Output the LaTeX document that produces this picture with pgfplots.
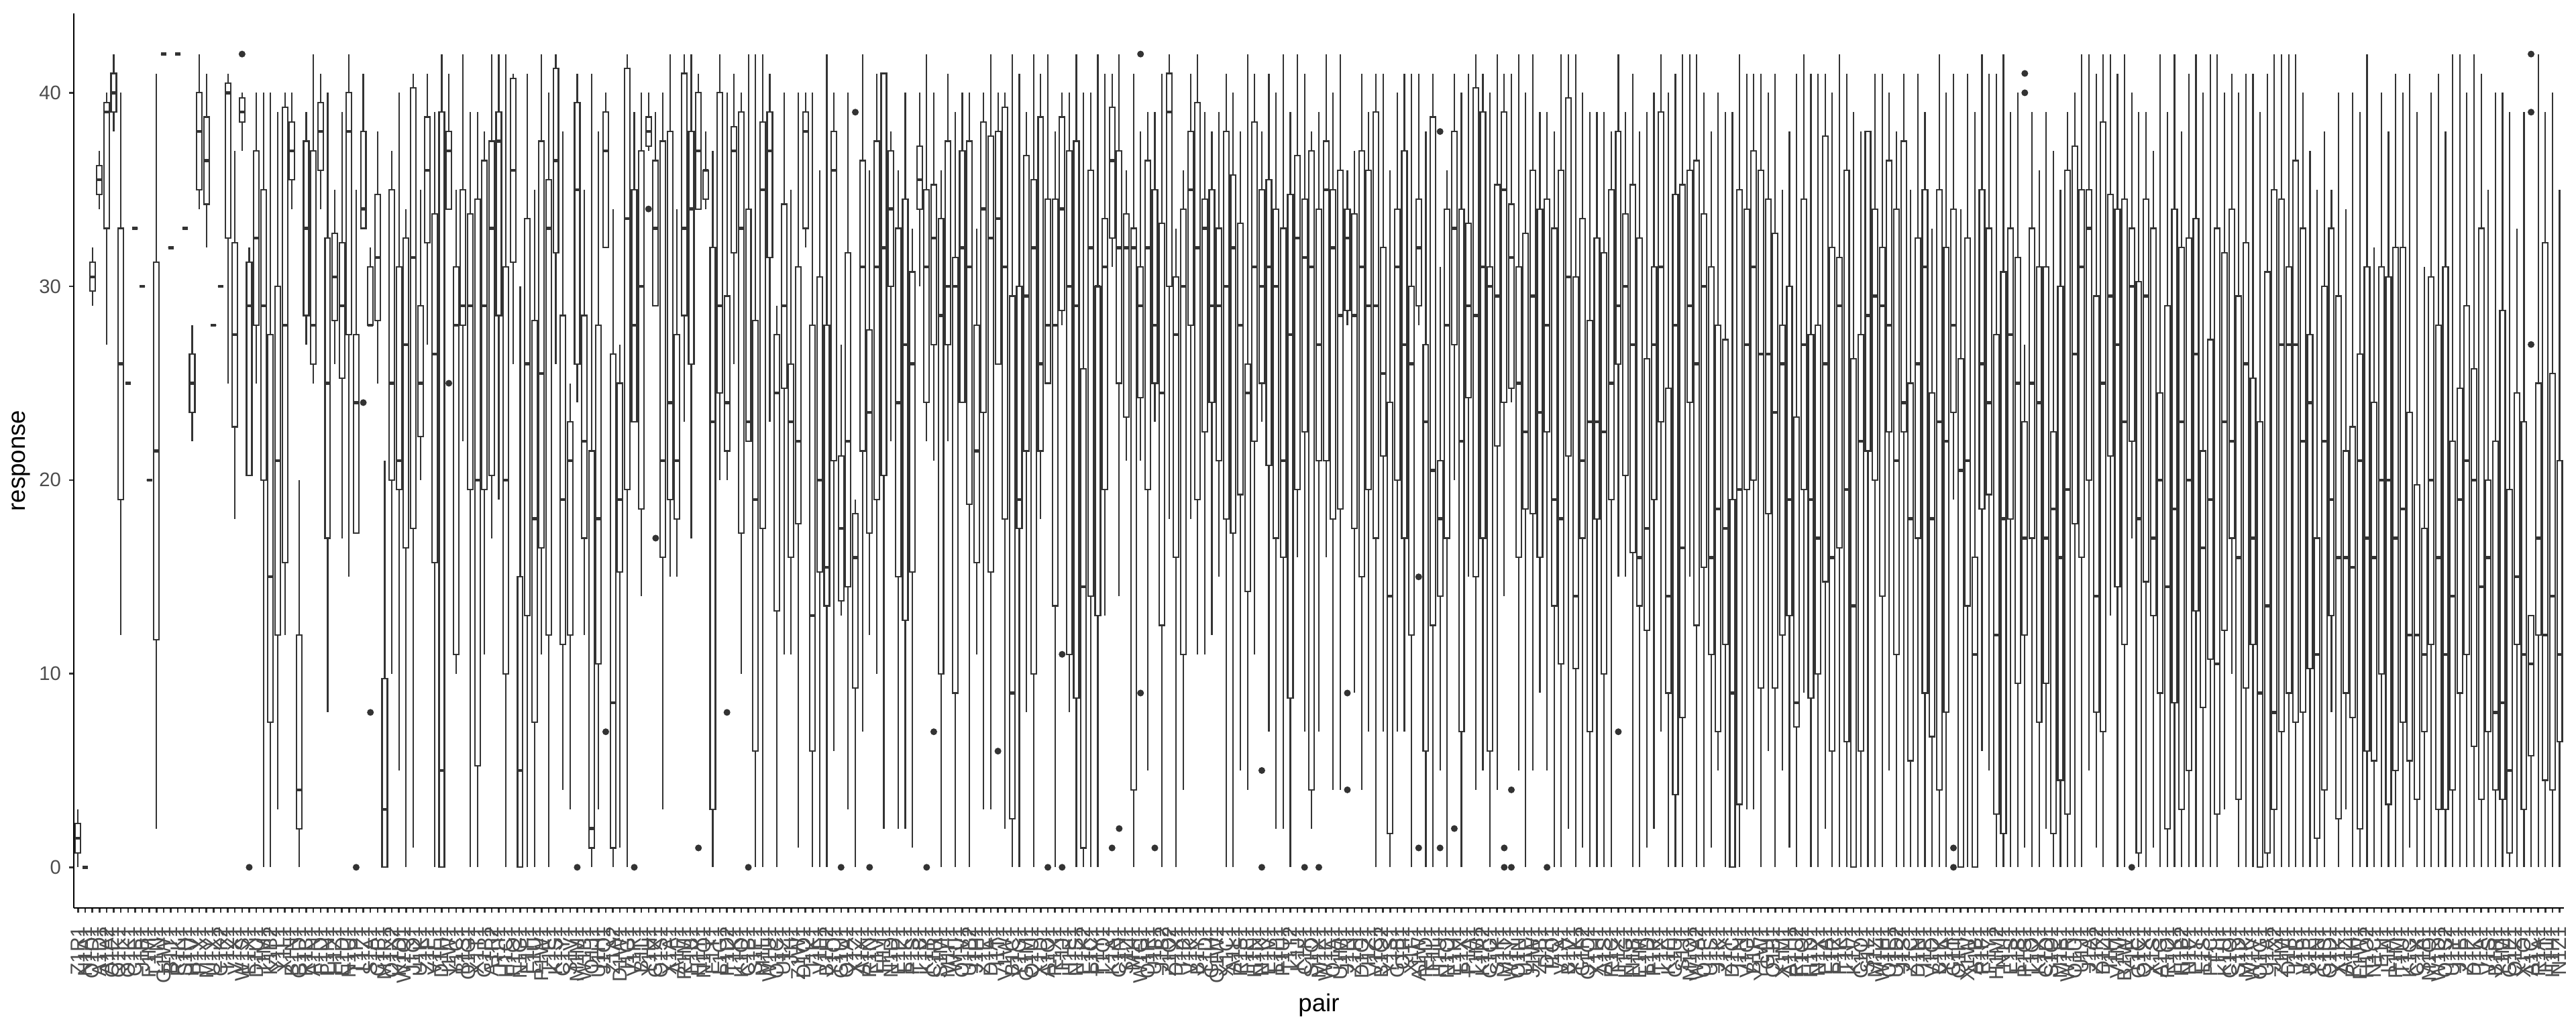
\documentclass[border=0pt]{standalone}
\usepackage{fontspec}
\setmainfont{Liberation Sans}
\usepackage{pgfplots}
\usepackage{pgfplotstable}
\pgfplotsset{compat=1.18}
\usepgfplotslibrary{statistics}
\definecolor{boxc}{HTML}{333333}
\definecolor{tickc}{HTML}{4D4D4D}
\pgfplotsset{bx/.style={solid, draw=boxc, line width=0.65pt, fill=white}}

\pgfplotstableread{
i lab lw lq med uq uw
1 Z1R1 0 0.75 1.5 2.25 3
2 N1A1 0 0 0 0 0
3 O1D1 29 29.75 30.5 31.25 32
4 A1D1 34 34.75 35.5 36.25 37
5 A1A2 27 33 39 39.5 40
6 Q1E1 38 39 40 41 42
7 Q1K1 12 19 26 33 40
8 O1K1 25 25 25 25 25
9 C1E1 33 33 33 33 33
10 J1B1 30 30 30 30 30
11 F1M1 20 20 20 20 20
12 L1N1 2 11.75 21.5 31.25 41
13 G1W1 42 42 42 42 42
14 B1T1 32 32 32 32 32
15 R1K1 42 42 42 42 42
16 S1H1 33 33 33 33 33
17 H1V1 22 23.5 25 26.5 28
18 P1X1 34 35 38 40 42
19 M1Y1 32 34.25 36.5 38.75 41
20 U1X1 28 28 28 28 28
21 C1K2 30 30 30 30 30
22 T1Z1 25 32.5 40 40.5 41
23 V1X1 18 22.75 27.5 32.25 37
24 W1S1 37 38.5 39 39.75 40
25 E1X1 20.25 20.25 29 31.25 32
26 D1U1 25 28 32.5 37 40
27 I1M1 0 20 29 35 40
28 K1B2 0 7.5 15 27.5 40
29 Y1L1 3 12 21 30 39
30 X1L1 12 15.75 28 39.25 40
31 B1N1 34 35.5 37 38.5 40
32 G1D1 0 2 4 12 20
33 R1B1 27 28.5 33 37.5 39
34 A1N1 25 26 28 37 42
35 F1D1 34 36 38 39.5 41
36 P1N1 8 17 25 32.5 40
37 H1Z1 26 28.25 30.5 32.75 35
38 E1D1 17 25.25 29 32.25 39
39 N1U1 15 27.5 38 40 42
40 T1P1 17.25 17.25 24 27.5 35
41 L1Z1 33 33 34 38 41
42 S1A1 28 28 28 31 32
43 C1P1 25 28.25 31.5 34.75 38
44 M1R1 0 0 3 9.75 21
45 O1X2 10 20 25 35 37
46 K1D1 5 19.5 21 31 40
47 W1Q1 0 16.5 27 32.5 34
48 J1O1 1 17.5 31.5 40.25 41
49 U1K1 20 22.25 25 29 35
50 Z1F1 27 32.25 36 38.75 41
51 V1E1 0 15.75 26.5 33.75 39
52 D1H1 0 0 5 39 42
53 I1W1 34 34 37 38 41
54 Y1C1 10 11 28 31 35
55 B1S1 22 28 29 35 42
56 Q1G1 0 19.5 29 33.75 39
57 X1T1 0 5.25 20 34.5 39
58 G1P1 11 19.5 29 36.5 38
59 A1R2 17 20.25 33 37.5 42
60 R1I1 19 28.5 37.5 39 42
61 H1C1 0 10 20 31 42
62 F1O1 26 31.25 36 40.75 41
63 N1G1 0 0 5 15 30
64 E1F1 0 13 26 33.5 41
65 L1U1 0 7.5 18 28.25 35
66 P1W1 11 16.5 25.5 37.5 42
67 T1E1 0 12 33 35.5 40
68 K1S1 26 31.75 36.5 41.25 42
69 C1Y1 4 11.5 19 28.5 38
70 S1V1 3 12 21 23 25
71 M1M1 24 26 35 39.5 41
72 W1B1 12 17 22 28.5 35
73 O1J1 0 1 2 21.5 41
74 U1H1 3 10.5 18 28 38
75 J1Q1 32 32 37 39 40
76 Z1A2 0 1 8.5 26.5 34
77 D1W1 1 15.25 19 25 27
78 I1G1 0 19.5 33.5 41.25 42
79 V1R1 23 23 28 35 39
80 B1L1 14 18.5 30 37 40
81 Y1H1 37 37.25 38 38.75 40
82 G1X1 29 29 33 36.5 39
83 Q1S1 3 16 21 37.5 40
84 X1A1 15 19 24 38 42
85 A1F1 15 18 21 27.5 34
86 R1M1 23 28.5 33 41 42
87 F1B1 17 26 34 38 42
88 H1Y1 34 34 37 40 41
89 N1Q1 34 34.5 36 36 38
90 E1T1 0 3 23 32 37
91 L1G1 20 24.5 29 40 42
92 P1D2 20 21.5 24 29.5 40
93 T1K1 26 31.75 37 38.25 41
94 K1O1 10 17.25 33 39 40
95 C1B1 22 22 23 34 42
96 S1E1 0 6 19 28.25 42
97 M1L1 0 17.5 35 38.5 42
98 W1U1 23 31.5 37 39 41
99 O1C1 0 13.25 24.5 27.5 29
100 U1Z1 11 24.75 29 34.25 40
101 J1I1 11 16 23 26 35
102 Z1W1 1 17.75 22 31 40
103 D1Q1 32 33 38 39 40
104 I1K1 0 6 13 28 40
105 V1F1 0 15.25 20 30.5 36
106 B1H2 0 13.5 15.5 28 42
107 Y1O1 6 21 36 38 40
108 G1U1 13 13.75 17.5 21.25 27
109 Q1A1 3 14.5 22 31.75 40
110 X1Z1 0 9.25 16 18.25 19
111 A1X1 7 21.5 31 36.5 42
112 R1N1 12 17.25 23.5 27.75 36
113 F1V1 10 19 31 37.5 41
114 H1J1 2 20.25 32 41 41
115 N1D1 22 30 34 37 38
116 E1P1 2 15 24 33 36
117 L1K1 2 12.75 27 34.5 40
118 P1S1 1 15.25 26 30.75 33
119 T1B1 30 34 35.5 37.25 40
120 K1Y1 22 24 31 35 42
121 C1R1 21 27 32.5 35.25 40
122 S1M1 0 10 28.5 33.5 36
123 M1F1 22 27 30 37.5 41
124 W1I1 0 9 30 31.5 39
125 O1V1 24 24 32 37 40
126 U1B2 0 18.75 31 37.5 40
127 J1H1 11 15.75 21.5 28 33
128 Z1E1 3 23.5 34 38.5 40
129 D1A1 3 15.25 32.5 37.75 42
130 I1T1 26 26 33.5 38 40
131 V1W1 2 18 31 39.25 40
132 B1C1 0 2.5 9 29.5 42
133 Y1G1 0 17.5 19 30 41
134 G1M1 8 21.5 29.5 36.75 39
135 Q1U1 0 10 32 35.5 42
136 X1D1 18 21.5 26 38.75 41
137 A1O1 25 25 28 34.5 42
138 R1X1 0 13.5 28 34.5 38
139 F1J1 28 28.75 34 38.75 40
140 H1E1 8 11 30 37 40
141 N1S1 0 8.75 29 37.5 42
142 E1K2 0 1 14.5 25.75 40
143 L1C1 0 14 32 36 40
144 P1Y1 0 13 30 30 42
145 T1Q1 13 19.5 31 33.5 41
146 K1A1 31 32.5 36.5 39.25 41
147 C1N1 14 25 32 37 42
148 S1Z1 21 23.25 32 33.75 36
149 M1I1 0 4 32 33 41
150 W1G1 21 24.25 29 31 38
151 O1R1 5 19.5 32 36.5 39
152 U1F1 23 25 28 35 39
153 J1B2 0 12.5 24.5 33.25 41
154 Z1O2 18 30 39 41 42
155 D1X1 0 16 27.5 30.5 33
156 I1B1 4 11 30 34 36
157 V1K1 18 28 35 38 41
158 B1Y1 11 19 32 39.5 42
159 Y1D1 11 22.5 33 34.5 39
160 G1H1 12 24 29 35 38
161 Q1W1 15 21 29 33 39
162 X1C1 0 18 30 38 41
163 A1L1 0 17.25 32 35.75 40
164 R1S1 5 19.25 28 33.25 38
165 F1E1 4 14.25 24.5 26 42
166 H1N1 11 22 31 38.5 41
167 N1K1 23 25 30 35 38
168 E1V1 7 20.75 31 35.5 41
169 L1P1 2 17 30 34 40
170 P1U1 2 16 21 33 42
171 T1T2 0 8.75 27.5 34.75 39
172 K1J1 16 19.5 32.5 36.75 42
173 C1F1 7 22.5 31.5 34.5 41
174 S1O1 2 4 31 37 38
175 M1X1 7 21 27 34 39
176 W1E1 16 21 35 37.5 42
177 O1A1 4 18 32 35 40
178 U1M1 4 18.5 28.5 36 42
179 J1R1 28 28.75 32.5 34 36
180 Z1H1 9 17.5 28.5 33.75 37
181 D1G1 4 15 31 37 41
182 I1Z1 7 19.5 29 36 39
183 V1C1 0 17 29 39 41
184 B1Q2 7 21.25 25.5 32 41
185 Y1S1 0 1.75 14 24 36
186 G1B1 7 20 31 34 40
187 Q1I1 7 17 27 37 41
188 X1F1 0 12 26 30 41
189 A1W1 28 29 32 34.5 41
190 R1D1 0 6 23 27 38
191 F1L1 0 12.5 20.5 38.75 41
192 H1U1 5 14 18 21 31
193 N1O1 0 17 28 34 36
194 E1H1 20 27 33 38 41
195 L1X1 0 7 22 34 40
196 P1A1 15 24.25 29 33.25 41
197 T1M1 4 15 28.5 40.25 42
198 K1R2 5 17 31 39 41
199 C1G1 0 6 30 31 40
200 S1K1 4 21.75 29.5 35.25 42
201 M1T1 14 24 35 39 41
202 W1Y1 24 24.75 31.5 34.25 41
203 O1N1 5 16 25 31 42
204 U1E1 0 18.5 22.5 32.75 40
205 J1W1 5 18.25 29.5 36 42
206 Z1B1 9 16 23.5 34 39
207 D1I1 5 22.5 28 34.5 39
208 I1Q1 0 13.5 19 33 38
209 V1A1 0 10.5 18 36 42
210 B1V1 2 21.25 30.5 39.75 42
211 Y1K1 0 10.25 14 30.5 42
212 G1F2 1 17 21 33.5 40
213 Q1O1 0 7 23 28.25 39
214 X1H1 0 18 23 32.5 39
215 A1S1 0 10 22.5 31.75 39
216 R1C1 0 19 25 35 38
217 F1Z1 15 26 29 38 42
218 H1G1 15 20.25 30 33.75 39
219 N1B1 0 16.25 27 35.25 41
220 E1M1 0 13.5 16 32.5 38
221 L1D1 1 12.25 17.5 26.25 39
222 P1R1 2 19 27 31 40
223 T1X1 7 23 31 39 42
224 K1E1 0 9 14 24.75 40
225 C1U1 0 3.75 28 34.75 41
226 S1J1 0 7.75 16.5 35.25 42
227 M1O1 15 24 29 36 42
228 W1A2 0 12.5 26 36.5 42
229 O1P1 0 15.5 30 33.75 40
230 U1S1 1 11 16 31 38
231 J1K1 5 7 18.5 28 40
232 Z1Y1 0 11.5 17.5 27.25 39
233 D1C1 0 0 9 19 39
234 I1N1 0 3.25 19.5 35 42
235 V1G1 3 19.5 27 34 41
236 B1F1 3 20 31 37 41
237 Y1W1 0 9.25 26.5 36 41
238 G1I1 6 18.25 26.5 34.5 40
239 Q1B1 0 9.25 23.5 32.75 41
240 X1M1 5 12 26 28 35
241 A1H1 1 13 19 30 38
242 R1U2 0 7.25 8.5 23.25 41
243 F1Q1 9 19.5 27 34.5 42
244 H1D1 0 8.75 19 27.5 41
245 N1X1 0 10 17 28 41
246 E1A1 2 14.75 26 37.75 41
247 L1R1 0 6 16 32 40
248 P1K1 0 16.5 29 31.5 42
249 T1F1 0 6.5 19.5 36 41
250 K1V1 0 0 13.5 26.25 39
251 C1O1 0 6 22 27.5 38
252 S1L1 0 21.5 28.5 38 38
253 M1Z1 0 20 29.5 34 41
254 W1H1 0 14 29 32 41
255 O1E1 5 22.5 28 36.5 40
256 U1D2 0 11 21 34 38
257 J1S1 0 22.5 24 37.5 41
258 Z1C1 0 5.5 18 25 35
259 D1N1 0 17 26 32.5 41
260 I1E1 0 9 31 35 39
261 V1O1 0 6.75 18 24.5 33
262 B1K1 0 4 23 35 42
263 Y1A1 0 8 22 32 40
264 G1T1 19 23.5 28 34 41
265 Q1H1 0 0 20.5 26.25 34
266 X1W1 0 13.5 21 32.5 41
267 A1B1 0 0 11 16 39
268 R1F1 6 18.5 26 35 42
269 F1Y1 5 19.25 24 33 41
270 H1M2 0 2.75 12 27.5 41
271 N1I1 0 1.75 18 30.75 42
272 E1S1 0 18 27.5 33 39
273 L1B1 0 9.5 25 31.5 40
274 P1G1 1 12 17 23 27
275 T1O1 0 17 25 33 39
276 K1X1 0 7.5 24 31 36
277 C1D1 2 9.5 17 31 39
278 S1Q1 0 1.75 18.5 22.5 37
279 M1E1 0 4.5 16 30 35
280 W1R1 0 2.75 19.5 36 39
281 O1U1 0 17.75 26.5 37.25 40
282 U1J1 0 16 31 35 42
283 J1A1 5 20 33 35 42
284 Z1K2 1 8 14 29.5 41
285 D1Z1 0 7 25 38.5 42
286 I1H1 13 21.25 29.5 34.75 42
287 V1M1 0 14.5 27 34 41
288 B1W1 0 11.5 23 34.5 42
289 Y1E1 17 22 30 33 40
290 G1C1 0 0.75 18 30.25 39
291 Q1X1 0 14.75 29.5 34.5 39
292 X1S1 1 13 17 33 37
293 A1G1 0 9 20 24.5 42
294 R1O1 0 2 14.5 29 39
295 F1K1 0 8.5 18.5 34 42
296 H1B2 0 3 23 32 38
297 N1F1 0 5 20 32.5 41
298 E1Y1 0 13.25 26.5 33.5 42
299 L1S1 0 8.25 16.5 21.5 40
300 P1C1 0 10.75 19 27.25 42
301 T1I1 0 2.75 10.5 33 42
302 K1U1 3 12.25 23 31.75 40
303 C1Q1 10 17 22 34 41
304 S1D1 0 3.5 16 29.5 40
305 M1K1 0 9.25 26 32.25 41
306 W1V1 0 11.5 17 25.25 41
307 O1G1 0 0 9 23 39
308 U1A1 0 0.75 13.5 30.75 41
309 J1X2 0 3 8 35 42
310 Z1M1 0 7 27 34.5 42
311 D1F1 0 9 27 31 42
312 I1R1 0 7.5 27 36.5 42
313 V1B1 0 8 22 33 40
314 B1E1 0 10.25 24 27.5 37
315 Y1N1 0 1.5 11 17 35
316 G1S1 0 4 22 30 38
317 Q1D1 8 13 19 33 35
318 X1K1 0 2.5 16 29.5 40
319 A1Z1 3 9 16 21.5 34
320 R1H1 0 7.75 15.5 22.75 40
321 F1W1 0 2 21 26.5 39
322 H1O2 0 6 17 31 42
323 N1C1 0 5.5 16 24 32
324 E1I1 0 10 20 31 40
325 L1A1 0 3.25 20 30.5 38
326 P1M1 0 5 17 32 41
327 T1U1 0 7.5 18.5 32 40
328 K1G1 1 5.5 12 23.5 41
329 C1X1 0 3.5 12 19.75 39
330 S1B1 0 7 11 17.5 31
331 M1Q1 0 11.5 20 30.5 40
332 W1D1 0 3 16 28 41
333 O1S2 0 3 11 31 38
334 U1Y1 0 4 14 22 42
335 J1E1 0 9 19 24.75 42
336 Z1P1 0 11 21 29 40
337 D1K1 0 6.25 20 25.75 42
338 I1A1 0 3.5 14.5 33 41
339 V1S1 0 7 16 20 35
340 B1R1 0 4 8 22 40
341 Y1M1 0 3.5 8.5 28.75 40
342 G1E1 0 0.75 5 19.5 39
343 Q1Z1 0 11.5 15 24.5 33
344 X1O1 0 3 11 23 39
345 A1C1 0 5.75 10.5 13 13
346 R1A1 0 12 17 25 42
347 F1T1 0 4.5 12 32.25 39
348 H1H1 0 4 14 25.5 40
349 N1Z1 0 6.5 11 21 35
}\boxdata

\pgfplotstableread{
x y
24 42
25 0
40 0
41 24
42 8
53 25
71 0
75 7
79 0
81 34
82 17
88 1
92 8
95 0
108 0
110 39
112 0
120 0
121 7
130 6
137 0
139 11
139 0
146 1
147 2
150 42
150 9
152 1
167 5
167 0
173 0
175 0
179 9
179 4
189 15
189 1
192 38
192 1
194 2
201 1
201 0
202 4
202 0
207 0
217 7
264 1
264 0
274 41
274 40
289 0
345 42
345 39
345 27
}\outdata

\begin{document}
\begin{tikzpicture}
\useasboundingbox (-33pt,-54.6pt) rectangle (1119pt,406.2pt);
\begin{axis}[
  at={(0pt,0pt)}, anchor=south west,
  scale only axis, width=1113.6pt, height=400.2pt,
  xmin=0.4, xmax=349.6, ymin=-2.1, ymax=44.1,
  axis x line*=bottom, axis y line*=left,
  axis line style={black, line width=0.8pt, -},
  tick align=outside, major tick length=2.2pt,
  tick style={boxc, line width=0.75pt},
  xtick={1,...,349},
  xticklabels from table={\boxdata}{lab},
  ytick={0,10,20,30,40},
  /pgf/number format/assume math mode=true,
  xticklabel shift=2.5pt,
  xticklabel style={rotate=90, anchor=east, font=\fontsize{9}{10}\selectfont, text=tickc},
  yticklabel style={font=\fontsize{8.8}{10}\selectfont, text=tickc},
  xlabel={pair}, ylabel={response},
  label style={font=\fontsize{11}{13}\selectfont},
  x label style={at={(axis description cs:0.5,-0.1087)}, anchor=center},
  y label style={at={(axis description cs:-0.0212,0.5)}, anchor=center},
  clip=false,
  boxplot/draw direction=y,
  boxplot/box extend=0.75,
  boxplot/whisker extend=0,
  boxplot/every median/.style={line width=1.3pt},
]
\pgfplotsforeachungrouped \ri in {0,...,348}{%
  \pgfplotstablegetelem{\ri}{lw}\of\boxdata\let\vlw\pgfplotsretval
  \pgfplotstablegetelem{\ri}{lq}\of\boxdata\let\vlq\pgfplotsretval
  \pgfplotstablegetelem{\ri}{med}\of\boxdata\let\vmed\pgfplotsretval
  \pgfplotstablegetelem{\ri}{uq}\of\boxdata\let\vuq\pgfplotsretval
  \pgfplotstablegetelem{\ri}{uw}\of\boxdata\let\vuw\pgfplotsretval
  \pgfplotstablegetelem{\ri}{i}\of\boxdata\let\vpos\pgfplotsretval
  \edef\doplot{\noexpand\addplot[bx, boxplot prepared={draw direction=y, draw position=\vpos, lower whisker=\vlw, lower quartile=\vlq, median=\vmed, upper quartile=\vuq, upper whisker=\vuw}] coordinates {};}%
  \doplot
}
\addplot[only marks, mark=*, mark size=1.3pt, mark options={draw=boxc, fill=boxc, solid}] table[x=x, y=y]{\outdata};
\end{axis}
\end{tikzpicture}
\end{document}
